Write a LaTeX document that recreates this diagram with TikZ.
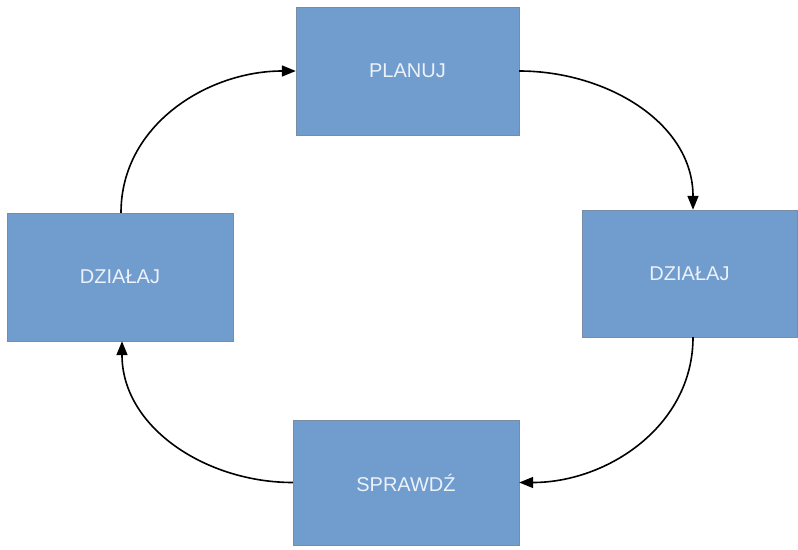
\documentclass[tikz,border=0pt]{standalone}
\usepackage{fontspec}
\setmainfont{Liberation Sans}
\usetikzlibrary{arrows.meta}
\definecolor{boxblue}{RGB}{112,156,206}
\definecolor{boxedge}{RGB}{120,140,165}
\definecolor{boxtext}{RGB}{236,242,250}
\begin{document}
\begin{tikzpicture}[x=1pt,y=-1pt,
  stagebox/.style={fill=boxblue,draw=boxedge,line width=0.4pt,inner sep=0pt,
    text=boxtext,font=\fontsize{20}{24}\selectfont},
  flow/.style={line width=1.6pt,-{Triangle[length=14pt,width=11pt]}}]
\useasboundingbox (0,0) rectangle (798,549);
\fill[white] (0,0) rectangle (798,549);
\node[stagebox,minimum width=223pt,minimum height=128pt] (plan) at (407.5,71) {PLANUJ};
\node[stagebox,minimum width=215pt,minimum height=127pt] (right) at (689.5,273.5) {DZIAŁAJ};
\node[stagebox,minimum width=226pt,minimum height=128pt] (left) at (120,277) {DZIAŁAJ};
\node[stagebox,minimum width=226pt,minimum height=125pt] (check) at (406,482.5) {SPRAWDŹ};
\draw[flow] ([xshift=1pt]left.north) to[out=90,in=180] (plan.west);
\draw[flow] (plan.east) to[out=0,in=90] ([xshift=3.5pt]right.north);
\draw[flow] ([xshift=3.5pt]right.south) to[out=-90,in=0] (check.east);
\draw[flow] (check.west) to[out=180,in=-90] ([xshift=2pt]left.south);
\end{tikzpicture}
\end{document}
